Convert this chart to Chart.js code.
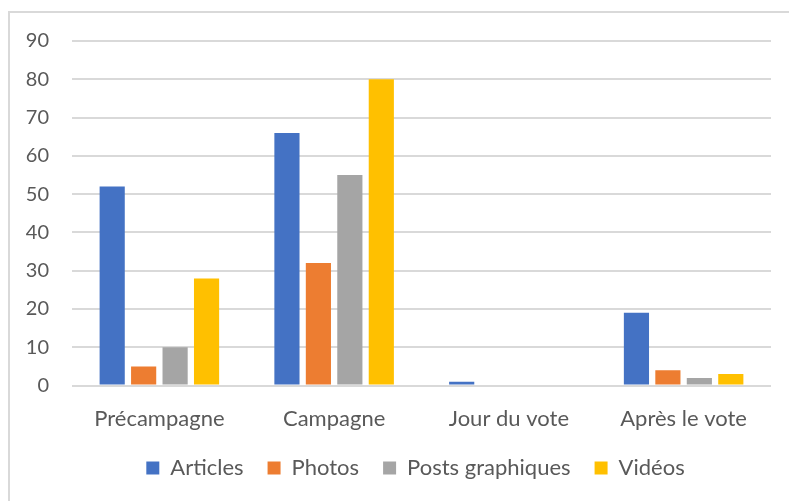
<!DOCTYPE html>
<html>
<head>
<meta charset="utf-8">
<script src="https://cdn.jsdelivr.net/npm/chart.js@4/dist/chart.umd.min.js"></script>
<style>
  html, body { margin: 0; padding: 0; background: #fff; overflow: hidden; }
  #cadre { position: absolute; left: 8px; top: 11px; width: 800px; height: 500px;
           border-top: 2px solid #d9d9d9; border-left: 2px solid #d9d9d9; }
  #graphique { position: absolute; left: 0; top: 0; }
</style>
</head>
<body>
<div id="cadre"></div>
<canvas id="graphique" width="789" height="501"></canvas>
<script>
// données
const categories = ['Précampagne', 'Campagne', 'Jour du vote', 'Après le vote']
const articles = [52, 66, 1, 19]
const photos = [5, 32, 0, 4]
const postsGraphiques = [10, 55, 0, 2]
const videos = [28, 80, 0, 3]
const couleurs = ['#4472C4', '#ED7D31', '#A5A5A5', '#FFC000']

const police = "Lato, 'Open Sans', sans-serif"
const gris = '#595959'

function serie(label, data, couleur) {
    return {
        label: label,
        data: data,
        backgroundColor: couleur,
        borderWidth: 0,
        categoryPercentage: 0.72,
        barPercentage: 0.8
    }
}

// décale la légende vers la droite (centrée sur le cadre comme dans Excel)
const decalageLegende = {
    id: 'decalageLegende',
    afterLayout(chart) {
        if (chart.legend) chart.legend.left += 60
    }
}

const ctx = document.getElementById('graphique')
new Chart(ctx, {
    type: 'bar',
    data: {
        labels: categories,
        datasets: [
            serie('Articles', articles, couleurs[0]),
            serie('Photos', photos, couleurs[1]),
            serie('Posts graphiques', postsGraphiques, couleurs[2]),
            serie('Vidéos', videos, couleurs[3])
        ]
    },
    plugins: [decalageLegende],
    options: {
        responsive: false,
        animation: false,
        devicePixelRatio: 1,
        layout: { padding: { left: 0, right: 18, top: 41, bottom: 12 } },
        plugins: {
            tooltip: { enabled: false },
            legend: {
                position: 'bottom',
                labels: {
                    color: gris,
                    font: { family: police, size: 22 },
                    boxWidth: 13,
                    boxHeight: 13,
                    padding: 24
                }
            }
        },
        scales: {
            x: {
                grid: { display: false },
                border: { display: false },
                afterFit: (axe) => { axe.height -= 11 },
                ticks: { color: gris, font: { family: police, size: 22 }, padding: 12 }
            },
            y: {
                min: 0,
                max: 90,
                afterFit: (axe) => { axe.width = 72 },
                grid: { color: '#d9d9d9', lineWidth: 2, drawTicks: false },
                border: { display: false },
                ticks: { stepSize: 10, color: gris, font: { family: police, size: 20 }, padding: 23 }
            }
        }
    }
})
</script>
</body>
</html>
